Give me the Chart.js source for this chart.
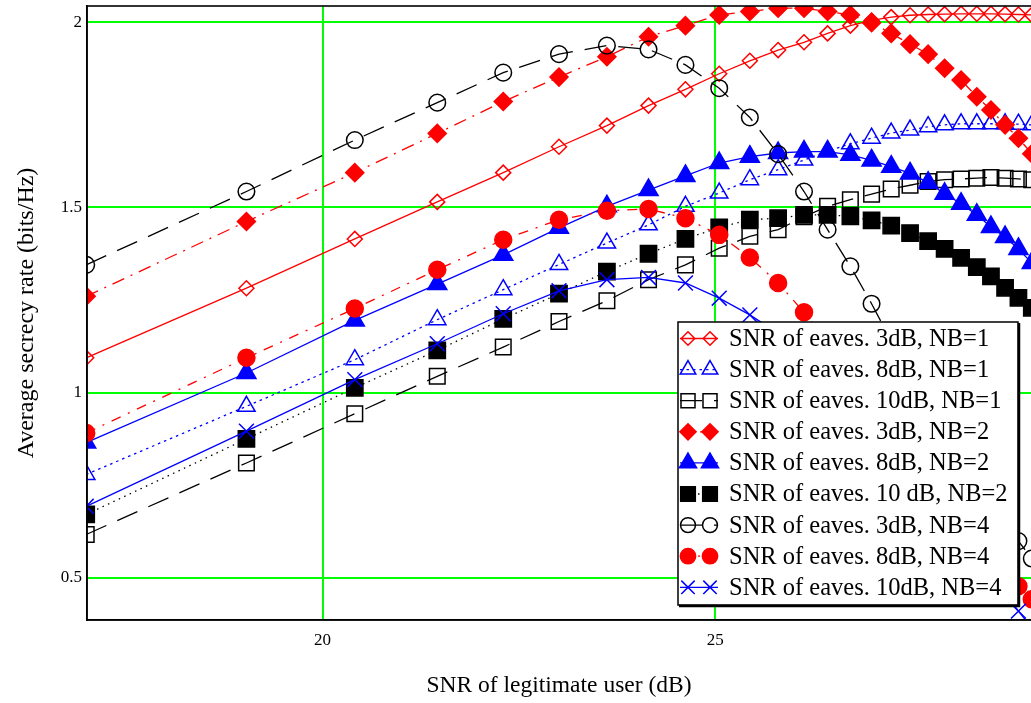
<!DOCTYPE html>
<html><head><meta charset="utf-8">
<script src="https://cdn.jsdelivr.net/npm/chart.js@4.4.1/dist/chart.umd.min.js"></script>
<style>html,body{margin:0;padding:0;background:#fff;}canvas{display:block;}</style>
</head><body>
<canvas id="c" width="1031" height="703"></canvas>
<script>
// SNR of legitimate user (dB) at each sample
const snrLegit = [16.99, 19.03, 20.41, 21.46, 22.30, 23.01, 23.62, 24.15, 24.62, 25.05, 25.44, 25.80, 26.13,
                  26.43, 26.72, 26.99, 27.24, 27.48, 27.71, 27.92, 28.13, 28.33, 28.51, 28.69, 28.86, 29.03];
const xTickValues = [20, 25];
const yTickValues = [0.5, 1, 1.5, 2];

const seriesLabels = [
  "SNR of eaves. 3dB, NB=1",
  "SNR of eaves. 8dB, NB=1",
  "SNR of eaves. 10dB, NB=1",
  "SNR of eaves. 3dB, NB=2",
  "SNR of eaves. 8dB, NB=2",
  "SNR of eaves. 10 dB, NB=2",
  "SNR of eaves. 3dB, NB=4",
  "SNR of eaves. 8dB, NB=4",
  "SNR of eaves. 10dB, NB=4"
];

const nb1_3dB  = [1.094, 1.282, 1.415, 1.515, 1.594, 1.664, 1.721, 1.775, 1.819, 1.861, 1.896, 1.925, 1.946, 1.970, 1.991, 2.005, 2.014, 2.019, 2.021, 2.022, 2.023, 2.023, 2.023, 2.022, 2.021, 2.020];
const nb1_8dB  = [0.779, 0.963, 1.089, 1.197, 1.278, 1.346, 1.404, 1.453, 1.503, 1.539, 1.575, 1.602, 1.628, 1.652, 1.672, 1.687, 1.701, 1.709, 1.718, 1.723, 1.726, 1.726, 1.726, 1.726, 1.725, 1.723];
const nb1_10dB = [0.617, 0.810, 0.943, 1.044, 1.123, 1.192, 1.248, 1.305, 1.345, 1.390, 1.422, 1.440, 1.475, 1.503, 1.521, 1.536, 1.550, 1.560, 1.570, 1.575, 1.577, 1.579, 1.581, 1.579, 1.577, 1.575];
const nb2_3dB  = [1.260, 1.462, 1.594, 1.700, 1.786, 1.852, 1.907, 1.961, 1.991, 2.020, 2.029, 2.038, 2.038, 2.029, 2.020, 1.999, 1.970, 1.941, 1.914, 1.876, 1.844, 1.799, 1.763, 1.723, 1.687, 1.645];
const nb2_8dB  = [0.865, 1.053, 1.195, 1.293, 1.372, 1.445, 1.503, 1.547, 1.585, 1.620, 1.637, 1.647, 1.651, 1.651, 1.642, 1.627, 1.610, 1.592, 1.567, 1.537, 1.510, 1.480, 1.447, 1.420, 1.388, 1.350];
const nb2_10dB = [0.671, 0.875, 1.013, 1.114, 1.199, 1.267, 1.327, 1.375, 1.415, 1.446, 1.467, 1.471, 1.480, 1.480, 1.476, 1.465, 1.451, 1.431, 1.409, 1.388, 1.364, 1.339, 1.314, 1.283, 1.256, 1.229];
const nb4_3dB  = [1.345, 1.543, 1.682, 1.783, 1.864, 1.914, 1.937, 1.927, 1.885, 1.822, 1.743, 1.644, 1.543, 1.440, 1.341, 1.240, 1.140, 1.045, 0.955, 0.870, 0.795, 0.730, 0.675, 0.635, 0.599, 0.552];
const nb4_8dB  = [0.891, 1.094, 1.227, 1.332, 1.413, 1.467, 1.491, 1.496, 1.471, 1.426, 1.365, 1.296, 1.217, 1.135, 1.050, 0.970, 0.890, 0.820, 0.750, 0.690, 0.630, 0.580, 0.540, 0.505, 0.477, 0.442];
const nb4_10dB = [0.693, 0.896, 1.035, 1.132, 1.213, 1.275, 1.305, 1.311, 1.296, 1.255, 1.210, 1.160, 1.100, 1.040, 0.980, 0.920, 0.860, 0.800, 0.740, 0.680, 0.620, 0.560, 0.510, 0.460, 0.410, 0.365];

const seriesValues = [nb1_3dB, nb1_8dB, nb1_10dB, nb2_3dB, nb2_8dB, nb2_10dB, nb4_3dB, nb4_8dB, nb4_10dB];

const RED = '#ff0000', BLUE = '#0000ff', BLACK = '#000000';
const styles = [
  {color: RED,   dash: [],            point: 'rectRot',  r: 7.5, fill: false},
  {color: BLUE,  dash: [2.5, 4],      point: 'triangle', r: 10,  fill: false},
  {color: BLACK, dash: [22, 12],      point: 'rect',     r: 11,  fill: false},
  {color: RED,   dash: [13, 7, 2, 7], point: 'rectRot',  r: 9,   fill: true},
  {color: BLUE,  dash: [],            point: 'triangle', r: 11,  fill: true},
  {color: BLACK, dash: [1.5, 4.5],    point: 'rect',     r: 11.5,fill: true},
  {color: BLACK, dash: [22, 12],      point: 'circle',   r: 8.3, fill: false},
  {color: RED,   dash: [10, 8, 2, 8], point: 'circle',   r: 8.5, fill: true},
  {color: BLUE,  dash: [],            point: 'crossRot', r: 10.5,fill: false}
];

const datasets = seriesValues.map((vals, i) => {
  const s = styles[i];
  return {
    label: seriesLabels[i],
    data: vals.map((v, k) => ({x: snrLegit[k], y: v})),
    borderColor: s.color,
    borderWidth: 1.3,
    borderDash: s.dash,
    pointStyle: s.point,
    pointRadius: s.r,
    pointBorderWidth: 1.5,
    pointBorderColor: s.color,
    pointBackgroundColor: s.fill ? s.color : 'rgba(0,0,0,0)',
    tension: 0,
    fill: false,
    clip: 0,
    order: seriesValues.length - i
  };
});

const FONT = '"Liberation Serif", "Times New Roman", serif';

const framePlugin = {
  id: 'frameAndLegend',
  afterDatasetsDraw(chart) {
    const ctx = chart.ctx, ca = chart.chartArea;
    ctx.save();
    ctx.strokeStyle = '#000'; ctx.lineWidth = 1.6; ctx.setLineDash([]);
    ctx.strokeRect(ca.left, ca.top, ca.right - ca.left + 2, ca.bottom - ca.top);
    // legend box
    const lx = 678, ly = 322, lw = 340, lh = 283;
    ctx.fillStyle = '#fff';
    ctx.fillRect(lx, ly, lw, lh);
    ctx.lineWidth = 1.5;
    ctx.strokeRect(lx, ly, lw, lh);
    ctx.lineWidth = 2.5;
    ctx.beginPath();
    ctx.moveTo(lx + 1, ly + lh + 1); ctx.lineTo(lx + lw + 1, ly + lh + 1); ctx.lineTo(lx + lw + 1, ly + 1);
    ctx.stroke();
    chart.data.datasets.forEach((ds, i) => {
      const y = 338.5 + i * 31.1;
      ctx.setLineDash(ds.borderDash || []);
      ctx.strokeStyle = ds.borderColor; ctx.lineWidth = ds.borderWidth;
      ctx.beginPath(); ctx.moveTo(680, y); ctx.lineTo(718, y); ctx.stroke();
      ctx.setLineDash([]);
      ctx.fillStyle = ds.pointBackgroundColor; ctx.strokeStyle = ds.pointBorderColor; ctx.lineWidth = ds.pointBorderWidth;
      [688, 710].forEach(px => {
        Chart.helpers.drawPoint(ctx, {pointStyle: ds.pointStyle, radius: ds.pointRadius * 0.9, borderWidth: ds.pointBorderWidth, rotation: 0}, px, y);
      });
      ctx.fillStyle = '#000';
      ctx.font = '24.5px ' + FONT;
      ctx.textBaseline = 'middle';
      ctx.textAlign = 'left';
      ctx.fillText(ds.label, 729, y + 1);
    });
    ctx.restore();
  }
};

new Chart(document.getElementById('c'), {
  type: 'line',
  data: {datasets},
  options: {
    responsive: false,
    animation: false,
    devicePixelRatio: 1,
    layout: {autoPadding: false, padding: {top: 6, right: 0, left: 0, bottom: 0}},
    plugins: {legend: {display: false}, tooltip: {enabled: false}},
    scales: {
      x: {
        type: 'linear', min: 17.0, max: 29.02,
        afterBuildTicks: a => { a.ticks = xTickValues.map(v => ({value: v})); },
        afterFit: a => { a.height = 83; a.paddingLeft = 0; a.paddingRight = 0; },
        grid: {color: '#00ff00', lineWidth: 2, drawTicks: false},
        border: {display: true, color: '#000', width: 1.6},
        ticks: {color: '#000', font: {family: FONT, size: 17}, padding: 10, maxRotation: 0, callback: v => String(v)},
        title: {display: true, text: 'SNR of legitimate user (dB)', color: '#000', font: {family: FONT, size: 23.5}, padding: {top: 0, bottom: 3}}
      },
      y: {
        type: 'linear', min: 0.386, max: 2.044,
        afterBuildTicks: a => { a.ticks = yTickValues.map(v => ({value: v})); },
        afterFit: a => { a.width = 87; a.paddingTop = 0; a.paddingBottom = 0; },
        grid: {color: '#00ff00', lineWidth: 2, drawTicks: false},
        border: {display: true, color: '#000', width: 1.6},
        ticks: {color: '#000', font: {family: FONT, size: 17}, padding: 5, callback: v => String(v)},
        title: {display: true, text: 'Average secrecy rate (bits/Hz)', color: '#000', font: {family: FONT, size: 24}, padding: {top: 12, bottom: 0}}
      }
    }
  },
  plugins: [framePlugin]
});
</script>
</body></html>
